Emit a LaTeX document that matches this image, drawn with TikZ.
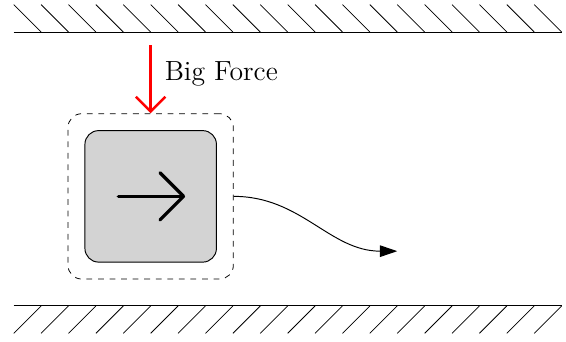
\documentclass[tikz,border=0pt]{standalone}
\usetikzlibrary{arrows.meta, positioning, fit}

\begin{document}
\begin{tikzpicture}[
    every node/.style={font=\Large},
]

% ---------------------------------------------------------------- colours
\definecolor{forcecolor}{HTML}{FF0000}   % the push from above
\definecolor{blockfill}{HTML}{D3D3D3}

\tikzset{
    wall/.style={line width=0.5pt},
    hatch/.style={line width=0.4pt},
    block/.style={rectangle, rounded corners=0.25cm, minimum size=2.4cm,
                  draw=black, fill=blockfill, line width=0.5pt},
    halo/.style={rectangle, rounded corners=0.25cm, draw, dashed,
                 inner sep=0.3cm},
    force/.style={-{Straight Barb[length=0.27cm, width=0.54cm]},
                  line width=1.3pt, forcecolor},
    glyph/.style={line width=1.7pt, line cap=round, line join=round},
    trail/.style={-{Triangle[length=9pt, width=6pt]}, line width=0.5pt},
}

\useasboundingbox (-0.25,-0.644) rectangle (10.08,5.584);

% ================================================================
% Two walls, 10cm long, hatched every 0.5cm
%   upper wall  y = 5
%   lower wall  y = 0
% ================================================================

\draw[wall] (0,5) -- (10,5);
\foreach \i in {0,...,19}
    \draw[hatch] (\i*0.5, 5.5) -- (\i*0.5+0.5, 5);

\draw[wall] (0,0) -- (10,0);
\foreach \i in {0,...,19}
    \draw[hatch] (\i*0.5, -0.5) -- (\i*0.5+0.5, 0);

% ----------------------------------------------------------------------
% the block and its dashed surround
% ----------------------------------------------------------------------
\node[block] (blk) at (2.5,2) {};
\node[halo, fit=(blk)] (hal) {};

\draw[glyph] (1.91,2) -- (3.10,2);
\draw[glyph] (2.67,2.43) -- (3.10,2) -- (2.67,1.57);

% ----------------------------------------------------------------------
% the force and the path it sends the block along
% ----------------------------------------------------------------------
\coordinate (ftop) at (2.5,4.76);
\draw[force] (ftop) -- (hal.north);
\node[anchor=base west, inner sep=0pt] (lbl) at (2.75,4.12) {Big Force};

\coordinate (tend) at (7,1);
\draw[trail] (hal.east) to[out=0, in=180] (tend);

\end{tikzpicture}
\end{document}
